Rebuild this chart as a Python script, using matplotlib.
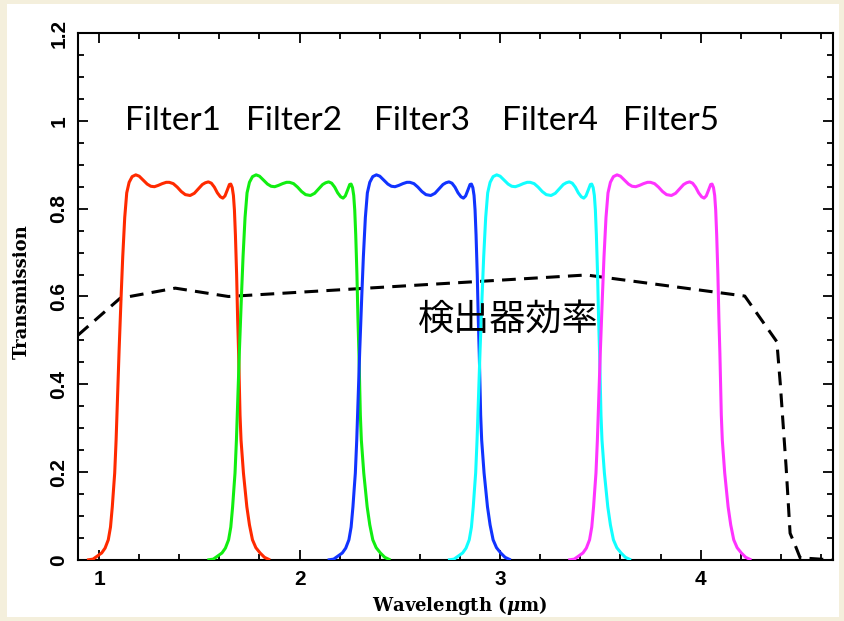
import matplotlib
matplotlib.use("Agg")
import matplotlib.pyplot as plt
from matplotlib.patches import Rectangle
from matplotlib.ticker import MultipleLocator

# transmission profile shared by all five filters (same shape, shifted bands)
trans = [0.000, 0.002, 0.016, 0.027, 0.046, 0.075, 0.121, 0.160, 0.198, 0.273,
         0.478, 0.600, 0.690, 0.780, 0.836, 0.860, 0.873, 0.877, 0.874, 0.865,
         0.856, 0.851, 0.850, 0.853, 0.857, 0.860, 0.860, 0.857, 0.849, 0.839,
         0.832, 0.830, 0.835, 0.845, 0.855, 0.859, 0.861, 0.858, 0.849, 0.836,
         0.827, 0.824, 0.829, 0.843, 0.855, 0.856, 0.848, 0.830, 0.797, 0.740,
         0.650, 0.550, 0.470, 0.330, 0.273, 0.198, 0.121, 0.080, 0.046, 0.028,
         0.016, 0.006, 0.000]

wl_f1 = [0.94, 0.97, 1.013, 1.030, 1.046, 1.057, 1.066, 1.072, 1.078, 1.085,
         1.100, 1.110, 1.118, 1.128, 1.138, 1.150, 1.165, 1.183, 1.200, 1.220,
         1.240, 1.258, 1.276, 1.295, 1.315, 1.335, 1.350, 1.370, 1.390, 1.410,
         1.430, 1.454, 1.475, 1.495, 1.515, 1.530, 1.545, 1.560, 1.575, 1.590,
         1.605, 1.617, 1.628, 1.640, 1.650, 1.657, 1.664, 1.670, 1.675, 1.680,
         1.686, 1.691, 1.696, 1.703, 1.708, 1.720, 1.737, 1.750, 1.765, 1.782,
         1.803, 1.825, 1.853]
wl_f2 = [1.54, 1.57, 1.613, 1.630, 1.646, 1.657, 1.666, 1.672, 1.678, 1.685,
         1.700, 1.710, 1.718, 1.728, 1.738, 1.750, 1.765, 1.783, 1.800, 1.820,
         1.840, 1.858, 1.876, 1.895, 1.915, 1.935, 1.950, 1.970, 1.990, 2.010,
         2.030, 2.054, 2.075, 2.095, 2.115, 2.130, 2.145, 2.160, 2.175, 2.190,
         2.205, 2.217, 2.228, 2.240, 2.250, 2.257, 2.264, 2.270, 2.275, 2.280,
         2.286, 2.291, 2.296, 2.303, 2.308, 2.320, 2.337, 2.350, 2.365, 2.382,
         2.403, 2.425, 2.453]
wl_f3 = [2.14, 2.17, 2.213, 2.230, 2.246, 2.257, 2.266, 2.272, 2.278, 2.285,
         2.300, 2.310, 2.318, 2.328, 2.338, 2.350, 2.365, 2.383, 2.400, 2.420,
         2.440, 2.458, 2.476, 2.495, 2.515, 2.535, 2.550, 2.570, 2.590, 2.610,
         2.630, 2.654, 2.675, 2.695, 2.715, 2.730, 2.745, 2.760, 2.775, 2.790,
         2.805, 2.817, 2.828, 2.840, 2.850, 2.857, 2.864, 2.870, 2.875, 2.880,
         2.886, 2.891, 2.896, 2.903, 2.908, 2.920, 2.937, 2.950, 2.965, 2.982,
         3.003, 3.025, 3.053]
wl_f4 = [2.74, 2.77, 2.813, 2.830, 2.846, 2.857, 2.866, 2.872, 2.878, 2.885,
         2.900, 2.910, 2.918, 2.928, 2.938, 2.950, 2.965, 2.983, 3.000, 3.020,
         3.040, 3.058, 3.076, 3.095, 3.115, 3.135, 3.150, 3.170, 3.190, 3.210,
         3.230, 3.254, 3.275, 3.295, 3.315, 3.330, 3.345, 3.360, 3.375, 3.390,
         3.405, 3.417, 3.428, 3.440, 3.450, 3.457, 3.464, 3.470, 3.475, 3.480,
         3.486, 3.491, 3.496, 3.503, 3.508, 3.520, 3.537, 3.550, 3.565, 3.582,
         3.603, 3.625, 3.653]
wl_f5 = [3.34, 3.37, 3.413, 3.430, 3.446, 3.457, 3.466, 3.472, 3.478, 3.485,
         3.500, 3.510, 3.518, 3.528, 3.538, 3.550, 3.565, 3.583, 3.600, 3.620,
         3.640, 3.658, 3.676, 3.695, 3.715, 3.735, 3.750, 3.770, 3.790, 3.810,
         3.830, 3.854, 3.875, 3.895, 3.915, 3.930, 3.945, 3.960, 3.975, 3.990,
         4.005, 4.017, 4.028, 4.040, 4.050, 4.057, 4.064, 4.070, 4.075, 4.080,
         4.086, 4.091, 4.096, 4.103, 4.108, 4.120, 4.137, 4.150, 4.165, 4.182,
         4.203, 4.225, 4.253]

filter_names = ["Filter1", "Filter2", "Filter3", "Filter4", "Filter5"]
filter_label_x = [1.37, 1.97, 2.61, 3.25, 3.85]
filter_colors = ["#ff2a00", "#11ee11", "#1133ff", "#11ffff", "#ff33ff"]

# detector quantum efficiency
det_wl = [0.895, 1.105, 1.38, 1.645, 3.43, 4.22, 4.38, 4.397, 4.426, 4.446,
          4.471, 4.496, 4.66]
det_qe = [0.512, 0.596, 0.619, 0.600, 0.649, 0.601, 0.497, 0.402, 0.213, 0.061,
          0.034, 0.005, 0.0]

plt.rcParams["mathtext.fontset"] = "dejavuserif"
plt.rcParams["font.family"] = "Liberation Sans"
plt.rcParams["font.weight"] = "bold"
plt.rcParams["xtick.labelsize"] = 15
plt.rcParams["ytick.labelsize"] = 15

fig = plt.figure(figsize=(8.45, 6.21), dpi=100, facecolor="#f4efdc")
fig.patches.append(Rectangle((7 / 845, 4 / 621), 832 / 845, 613 / 621,
                             transform=fig.transFigure, facecolor="white",
                             edgecolor="none", zorder=-5))
ax = fig.add_axes([78 / 845, 61 / 621, 755 / 845, 527 / 621])
ax.set_zorder(2)

ax.plot(det_wl, det_qe, color="black", lw=2.2, linestyle=(0, (4.5, 2.7)), zorder=2)
for wl, c in zip([wl_f1, wl_f2, wl_f3, wl_f4, wl_f5], filter_colors):
    ax.plot(wl, trans, color=c, lw=2.2, zorder=3, solid_capstyle="butt")

for name, x in zip(filter_names, filter_label_x):
    ax.text(x, 0.978, name, ha="center", va="baseline", fontsize=24,
            family="Lato", fontweight="normal")
ax.text(3.04, 0.547, "検出器効率", ha="center", va="center", fontsize=26,
        family=["Noto Sans CJK JP", "DejaVu Sans"], fontweight="normal")

ax.set_xlim(0.895, 4.66)
ax.set_ylim(0, 1.2)
ax.xaxis.set_major_locator(MultipleLocator(1))
ax.xaxis.set_minor_locator(MultipleLocator(0.2))
ax.yaxis.set_major_locator(MultipleLocator(0.2))
ax.yaxis.set_minor_locator(MultipleLocator(0.05))
ax.yaxis.set_major_formatter(plt.FuncFormatter(lambda v, p: f"{v:g}"))
ax.tick_params(which="both", direction="in", top=True, right=True, width=1.3)
ax.tick_params(which="major", length=7, pad=7)
ax.tick_params(which="minor", length=4)
ax.tick_params(axis="y", labelrotation=90)
for lab in ax.get_yticklabels():
    lab.set_va("center")
for sp in ax.spines.values():
    sp.set_linewidth(1.5)

ax.set_xlabel(r"Wavelength ($\mu$m)", family="DejaVu Serif", fontweight="bold", fontsize=13)
ax.xaxis.set_label_coords(0.505, -0.065)
ax.set_ylabel("Transmission", family="DejaVu Serif", fontweight="bold", fontsize=13)
ax.yaxis.set_label_coords(-0.063, 0.51)

fig.savefig("out.png", dpi=100, facecolor=fig.get_facecolor())
